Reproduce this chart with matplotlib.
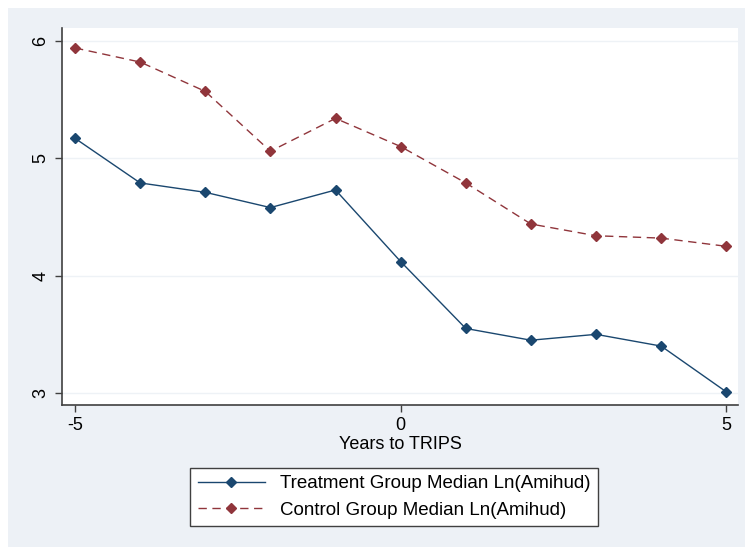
import matplotlib
matplotlib.use("Agg")
import matplotlib.pyplot as plt
from matplotlib.patches import Rectangle

years = [-5, -4, -3, -2, -1, 0, 1, 2, 3, 4, 5]
treatment = [5.17, 4.79, 4.71, 4.58, 4.73, 4.12, 3.55, 3.45, 3.50, 3.40, 3.01]
control = [5.94, 5.82, 5.57, 5.06, 5.34, 5.10, 4.79, 4.44, 4.34, 4.32, 4.25]
xticks = [-5, 0, 5]
yticks = [3, 4, 5, 6]

plt.rcParams['font.family'] = ['Liberation Sans', 'DejaVu Sans']

W, H = 745, 548
fig = plt.figure(figsize=(W/100, H/100), dpi=100, facecolor='white')
bg = '#EDF1F6'
fig.patches.append(Rectangle((8/W, 1/H), 1 - 8/W, 1 - 9/H, transform=fig.transFigure,
                             facecolor=bg, edgecolor='none', zorder=-10))

ax = fig.add_axes([62/W, 1 - 405/H, (738 - 62)/W, (405 - 28)/H])
ax.set_facecolor('white')
navy = '#1a476f'
maroon = '#90353b'
ax.plot(years, treatment, color=navy, lw=1.0, marker='D', ms=5.5,
        label='Treatment Group Median Ln(Amihud)')
ax.plot(years, control, color=maroon, lw=1.0, ls=(0, (6, 4)), marker='D', ms=5.5,
        label='Control Group Median Ln(Amihud)')

ax.set_xlim(-5.2, 5.18)
ax.set_ylim(2.898, 6.11)
ax.set_xticks(xticks)
ax.set_yticks(yticks)
ax.set_xticklabels([str(t) for t in xticks], fontsize=13)
ax.set_yticklabels([str(t) for t in yticks], fontsize=13, rotation=90, va='center')
ax.grid(axis='y', color='#EEF2F6', lw=1)
ax.set_axisbelow(True)
for s in ['top', 'right']:
    ax.spines[s].set_visible(False)
for s in ['left', 'bottom']:
    ax.spines[s].set_color('#404040')
    ax.spines[s].set_linewidth(1.2)
ax.tick_params(axis='both', direction='out', length=5, width=1, color='#404040', pad=4)
ax.set_xlabel('Years to TRIPS', fontsize=13, labelpad=1)

leg = fig.legend(loc='center', bbox_to_anchor=((190 + 598) / 2 / W, 1 - 497 / H),
                 fontsize=13.5, frameon=True, fancybox=False, edgecolor='#404040',
                 facecolor='white', framealpha=1, handlelength=3.6, borderpad=0.4,
                 labelspacing=0.5, handletextpad=0.8)
leg.get_frame().set_linewidth(1.0)

fig.savefig('out.png', dpi=100, facecolor='white')
